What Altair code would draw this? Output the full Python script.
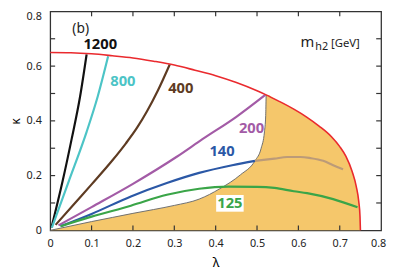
import altair as alt
import pandas as pd

# ---- data ----
red_x = [0, 0.05, 0.1, 0.15, 0.2, 0.25, 0.3, 0.35, 0.4, 0.45, 0.5, 0.522, 0.55, 0.59, 0.62, 0.65, 0.68, 0.7, 0.715, 0.73, 0.74, 0.746, 0.749, 0.75]
red_y = [0.65, 0.649, 0.645, 0.638, 0.63, 0.618, 0.604, 0.585, 0.565, 0.54, 0.51, 0.495, 0.474, 0.442, 0.414, 0.381, 0.342, 0.306, 0.27, 0.215, 0.16, 0.105, 0.05, 0]

gray_x = [0, 0.05, 0.1, 0.15, 0.2, 0.25, 0.3, 0.36, 0.41, 0.46, 0.495, 0.51, 0.518, 0.521, 0.522]
gray_y = [0, 0.016, 0.032, 0.047, 0.062, 0.076, 0.091, 0.114, 0.152, 0.203, 0.254, 0.3, 0.36, 0.42, 0.495]

tan_x = [0.495, 0.542, 0.573, 0.605, 0.629, 0.66, 0.684, 0.708]
tan_y = [0.254, 0.262, 0.268, 0.268, 0.264, 0.254, 0.238, 0.223]

m1200_x = [0.003, 0.03, 0.052, 0.072, 0.088]
m1200_y = [0.01, 0.18, 0.335, 0.487, 0.643]
m800_x = [0.004, 0.045, 0.088, 0.115, 0.14]
m800_y = [0.01, 0.18, 0.36, 0.49, 0.636]
m400_x = [0.013, 0.06, 0.1, 0.15, 0.183, 0.21, 0.234, 0.26, 0.289]
m400_y = [0.02, 0.1, 0.168, 0.255, 0.318, 0.375, 0.435, 0.51, 0.606]
m200_x = [0.02, 0.1, 0.2, 0.305, 0.368, 0.45, 0.52]
m200_y = [0.018, 0.085, 0.17, 0.268, 0.333, 0.415, 0.495]
m140_x = [0.025, 0.1, 0.195, 0.282, 0.36, 0.44, 0.495]
m140_y = [0.015, 0.06, 0.124, 0.173, 0.21, 0.238, 0.254]
m125_x = [0.025, 0.1, 0.195, 0.282, 0.36, 0.43, 0.5, 0.542, 0.589, 0.621, 0.684, 0.743]
m125_y = [0.015, 0.05, 0.09, 0.13, 0.152, 0.16, 0.159, 0.155, 0.143, 0.136, 0.114, 0.084]

series_names = ["1200", "800", "400", "200", "140", "125"]
series_colors = ["#111111", "#4cc4c6", "#5e3b22", "#a35ba6", "#2b58a6", "#3aa548"]

tick_vals = [0.1, 0.2, 0.3, 0.4, 0.5, 0.6, 0.7]
axis_labels = [0, 0.1, 0.2, 0.3, 0.4, 0.5, 0.6, 0.7, 0.8]

W, H = 337, 223
FONT = "Noto Sans"
SMOOTH = "monotone"

# ---- tables ----
def path(xs, ys, name):
    return pd.DataFrame({"x": xs, "y": ys, "s": name, "o": range(len(xs))})

red_df = path(red_x, red_y, "red")
gray_df = path(gray_x, gray_y, "gray")
tan_df = path(tan_x, tan_y, "tan")
lines_df = pd.concat([
    path(m1200_x, m1200_y, "1200"), path(m800_x, m800_y, "800"),
    path(m400_x, m400_y, "400"), path(m200_x, m200_y, "200"),
    path(m140_x, m140_y, "140"), path(m125_x, m125_y, "125"),
])
# filled region: below the gray boundary, then below the red curve
fill_df = pd.concat([gray_df, red_df[red_df["x"] > gray_x[-1]]])
fill_df = fill_df.assign(y0=0.0)

xs = alt.Scale(domain=[0, 0.8], nice=False)
ys = alt.Scale(domain=[0, 0.8], nice=False)

lab_expr = "datum.value == 0 ? '0' : format(datum.value, '.1f')"

x_axis = alt.Axis(values=axis_labels, ticks=False, grid=False, labelPadding=7,
                  title="λ", titleFont=FONT, titleFontSize=13, titleFontWeight="normal",
                  titlePadding=9, labelFont=FONT, labelFontSize=11, labelColor="#222",
                  domain=False, labelFlush=False, labelExpr=lab_expr,
                  labelOffset={"condition": {"test": "datum.value >= 0.79", "value": -3}, "value": 0})
y_axis = alt.Axis(values=axis_labels, ticks=False, grid=False, labelPadding=9,
                  title="κ", titleFont=FONT, titleFontSize=12, titleFontWeight="normal",
                  titleX=-35, titleBaseline="middle", titleAngle=270,
                  labelFont=FONT, labelFontSize=11, labelColor="#222",
                  domain=False, labelExpr=lab_expr,
                  labelOffset={"condition": {"test": "datum.value >= 0.79", "value": 5}, "value": 0})

area = alt.Chart(fill_df).mark_area(color="#f5c76b", opacity=1, interpolate=SMOOTH).encode(
    x=alt.X("x:Q", scale=xs, axis=x_axis),
    y=alt.Y("y:Q", scale=ys, axis=y_axis),
    y2="y0:Q",
)

gray = alt.Chart(gray_df).mark_line(color="#6e6e6e", strokeWidth=1, interpolate=SMOOTH).encode(
    x="x:Q", y="y:Q", order="o:Q")
tan = alt.Chart(tan_df).mark_line(color="#bc9b78", strokeWidth=2.2, interpolate=SMOOTH).encode(
    x="x:Q", y="y:Q", order="o:Q")
lines = alt.Chart(lines_df).mark_line(strokeWidth=2.2, interpolate=SMOOTH).encode(
    x="x:Q", y="y:Q", order="o:Q",
    color=alt.Color("s:N", scale=alt.Scale(domain=series_names, range=series_colors), legend=None),
)
red = alt.Chart(red_df).mark_line(color="#ea2a2e", strokeWidth=1.6, interpolate=SMOOTH).encode(
    x="x:Q", y="y:Q", order="o:Q")

xt_df = pd.DataFrame({"x": tick_vals})
yt_df = pd.DataFrame({"y": tick_vals})
tick_style = dict(color="#333", strokeWidth=1.2)
tb = alt.Chart(xt_df).mark_rule(**tick_style).encode(x="x:Q", y=alt.value(H), y2=alt.value(H - 5))
tt = alt.Chart(xt_df).mark_rule(**tick_style).encode(x="x:Q", y=alt.value(0), y2=alt.value(5))
tl = alt.Chart(yt_df).mark_rule(**tick_style).encode(y="y:Q", x=alt.value(0), x2=alt.value(5))
tr = alt.Chart(yt_df).mark_rule(**tick_style).encode(y="y:Q", x=alt.value(W), x2=alt.value(W - 5))

box = alt.Chart(pd.DataFrame({"k": [0]})).mark_rect(color="white").encode(
    x=alt.value(169), x2=alt.value(197), y=alt.value(187), y2=alt.value(204))

def label(text, px, py, color, size=15, weight="bold", align="center", baseline="middle"):
    return alt.Chart(pd.DataFrame({"t": [text]})).mark_text(
        font=FONT, fontSize=size, fontWeight=weight, color=color, align=align, baseline=baseline
    ).encode(text="t:N", x=alt.value(px), y=alt.value(py))

texts = [
    label("(b)", 31, 18, "#222", size=14, weight="normal"),
    label("1200", 51, 33, series_colors[0]),
    label("800", 74, 71, series_colors[1]),
    label("400", 133, 78, series_colors[2]),
    label("200", 205, 119, series_colors[3]),
    label("140", 175, 142, series_colors[4]),
    label("125", 183, 195.5, series_colors[5]),
    label("m", 262, 36, "#222", size=15, weight="normal", baseline="alphabetic"),
    label("h2", 270, 39, "#222", size=11, weight="normal", align="left", baseline="alphabetic"),
    label("[GeV]", 286, 36.5, "#222", size=11.5, weight="normal", align="left", baseline="alphabetic"),
]

chart = alt.layer(area, gray, tan, lines, red, tb, tt, tl, tr, box, *texts).properties(
    width=W, height=H, autosize="none",
    padding={"left": 43, "top": 1, "right": 6, "bottom": 41},
).configure_view(stroke="#333", strokeWidth=1.3)

chart.save("out.html", embed_options={"renderer": "svg", "actions": False})
